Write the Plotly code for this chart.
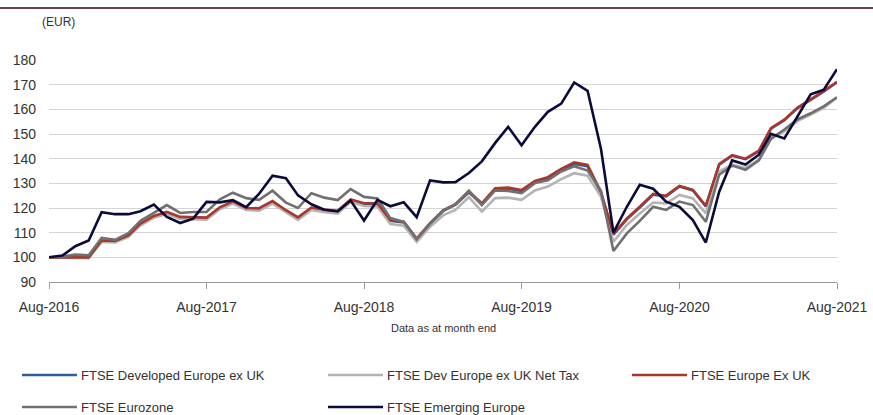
import pandas as pd
import plotly.graph_objects as go

months = pd.date_range("2016-08-01", periods=61, freq="MS")

series_names = [
    "FTSE Developed Europe ex UK",
    "FTSE Dev Europe ex UK Net Tax",
    "FTSE Europe Ex UK",
    "FTSE Eurozone",
    "FTSE Emerging Europe",
]
series_colors = ["#2f5f95", "#b4b4b4", "#a9372a", "#707070", "#0b0b3b"]

dev_europe_ex_uk = [
    100, 100, 100, 99.9, 106.6, 106.4, 108.7, 113.5, 116.6, 118.2, 116.2, 116.2,
    115.9, 120.1, 122.5, 119.8, 119.7, 122.6, 118.9, 116.0, 120.0, 119.2, 118.7,
    123.3, 121.6, 121.6, 114.8, 114.1, 107.3, 113.6, 118.9, 121.3, 126.4, 121.5,
    127.5, 127.8, 126.8, 130.5, 132.0, 135.3, 137.8, 136.9, 126.0, 109.2, 115.4,
    120.2, 125.4, 124.7, 128.7, 127.1, 120.6, 137.6, 141.2, 139.8, 143.0, 152.2,
    155.6, 160.4, 163.8, 167.2, 171.0,
]
dev_europe_net_tax = [
    100, 99.8, 99.8, 99.7, 106.2, 106.0, 108.3, 113.0, 116.0, 117.6, 115.6, 115.5,
    115.3, 119.5, 121.8, 119.2, 118.9, 121.8, 118.2, 115.2, 119.2, 118.3, 117.7,
    122.5, 120.8, 120.6, 113.5, 112.8, 106.2, 112.4, 117.1, 119.2, 124.4, 118.5,
    124.0, 124.2, 123.3, 127.1, 128.7, 131.7, 134.1, 133.1, 124.6, 106.3, 113.1,
    117.8, 122.2, 121.9, 125.3, 123.9, 117.8, 134.8, 137.6, 136.2, 139.6, 148.8,
    151.1, 155.2, 157.9, 160.6, 164.7,
]
europe_ex_uk = [
    100, 100, 100, 100, 106.8, 106.6, 108.9, 113.7, 116.8, 118.4, 116.4, 116.4,
    116.1, 120.3, 122.7, 120.0, 119.9, 122.8, 119.1, 116.2, 120.2, 119.4, 118.9,
    123.5, 121.9, 121.9, 115.1, 114.4, 107.6, 113.9, 119.2, 121.6, 126.7, 121.9,
    128.0, 128.3, 127.3, 131.0, 132.5, 135.9, 138.5, 137.5, 126.5, 109.5, 115.8,
    120.5, 125.7, 125.0, 128.9, 127.3, 120.9, 137.8, 141.4, 140.0, 143.3, 152.4,
    155.8, 160.6, 164.0, 167.4, 171.2,
]
eurozone = [
    100, 100.3, 101.1, 100.8, 107.9, 107.1, 109.8, 114.8, 118.0, 121.2, 118.0, 118.4,
    118.4, 123.5, 126.2, 124.0, 123.3, 127.0, 122.2, 120.0, 126.0, 124.2, 123.2,
    127.7, 124.5, 123.9, 115.9, 114.4, 107.4, 113.6, 119.0, 121.5, 127.0, 121.2,
    127.1, 126.9, 126.0, 130.1, 131.2, 134.8, 136.9, 135.2, 127.0, 102.6, 109.7,
    114.8, 120.5, 119.2, 122.6, 121.2, 114.4, 133.5, 137.2, 135.5, 139.3, 148.0,
    151.8, 155.9, 158.4, 161.2, 164.9,
]
emerging_europe = [
    100, 100.7, 104.5, 106.8, 118.3, 117.5, 117.5, 118.7, 121.4, 116.4, 113.9, 115.7,
    122.5, 122.3, 123.2, 120.3, 125.8, 133.1, 132.1, 125.1, 121.5, 119.3, 118.6,
    123.0, 114.9, 123.3, 120.7, 122.3, 116.3, 131.2, 130.4, 130.5, 134.2, 138.9,
    146.4, 152.9, 145.4, 152.9, 159.0, 162.3, 170.9, 167.5, 144.0, 110.0, 120.5,
    129.4, 127.8, 122.6, 120.5, 115.1, 106.0, 126.6, 139.3, 137.6, 141.6, 150.1,
    148.2, 157.0, 166.1, 167.9, 176.3,
]

y_ticks = [90, 100, 110, 120, 130, 140, 150, 160, 170, 180]
x_tick_dates = ["2016-08-01", "2017-08-01", "2018-08-01", "2019-08-01", "2020-08-01", "2021-08-01"]
x_tick_labels = ["Aug-2016", "Aug-2017", "Aug-2018", "Aug-2019", "Aug-2020", "Aug-2021"]

all_series = [dev_europe_ex_uk, dev_europe_net_tax, europe_ex_uk, eurozone, emerging_europe]

W, H = 873, 415
L, R, T, B = 49, 36, 60, 133
PW, PH = W - L - R, H - T - B


def px_x(x):
    return (x - L) / PW


def px_y(y):
    return (H - B - y) / PH


fig = go.Figure()
for name, color, vals in zip(series_names, series_colors, all_series):
    fig.add_trace(go.Scatter(
        x=months, y=vals, mode="lines", name=name,
        line=dict(color=color, width=2.6), showlegend=False,
    ))

font_family = "Liberation Sans, Arial, sans-serif"

fig.update_layout(
    width=W, height=H,
    margin=dict(l=L, r=R, t=T, b=B, autoexpand=False),
    paper_bgcolor="white", plot_bgcolor="white",
    font=dict(family=font_family, size=14, color="#333333"),
    xaxis=dict(
        type="date", range=["2016-08-01", "2021-08-01"],
        tickvals=x_tick_dates, ticktext=x_tick_labels,
        ticks="outside", ticklen=6, tickcolor="#9a9a9a", tickwidth=1,
        showline=True, linecolor="#9a9a9a", linewidth=1,
        showgrid=False, zeroline=False,
        tickfont=dict(size=14, color="#333333"),
        ticklabelstandoff=6,
    ),
    yaxis=dict(
        range=[90, 180], tickvals=y_ticks,
        showgrid=True, gridcolor="#d4d4d4", gridwidth=1,
        showline=False, zeroline=False, ticks="",
        tickfont=dict(size=14, color="#333333"),
        ticklabelstandoff=12,
    ),
)

shapes = [
    dict(type="line", xref="paper", yref="paper",
         x0=px_x(0), x1=px_x(W), y0=px_y(8), y1=px_y(8),
         line=dict(color="#6f3b55", width=2)),
]
annotations = [
    dict(text="(EUR)", xref="paper", yref="paper", x=px_x(40), y=px_y(22),
         xanchor="left", yanchor="middle", showarrow=False,
         font=dict(size=12, color="#333333")),
    dict(text="Data as at month end", xref="paper", yref="paper",
         x=px_x(443), y=px_y(328), xanchor="center", yanchor="middle",
         showarrow=False, font=dict(size=11, color="#333333")),
]

legend_pos = [(22, 375), (328, 375), (632, 375), (22, 407), (328, 407)]
for (lx, ly), name, color in zip(legend_pos, series_names, series_colors):
    shapes.append(dict(type="line", xref="paper", yref="paper",
                       x0=px_x(lx), x1=px_x(lx + 55), y0=px_y(ly), y1=px_y(ly),
                       line=dict(color=color, width=2.6)))
    annotations.append(dict(text=name, xref="paper", yref="paper",
                            x=px_x(lx + 57), y=px_y(ly), xanchor="left", yanchor="middle",
                            showarrow=False, font=dict(size=13, color="#333333")))

fig.update_layout(shapes=shapes, annotations=annotations)
fig.write_html("out.html")
